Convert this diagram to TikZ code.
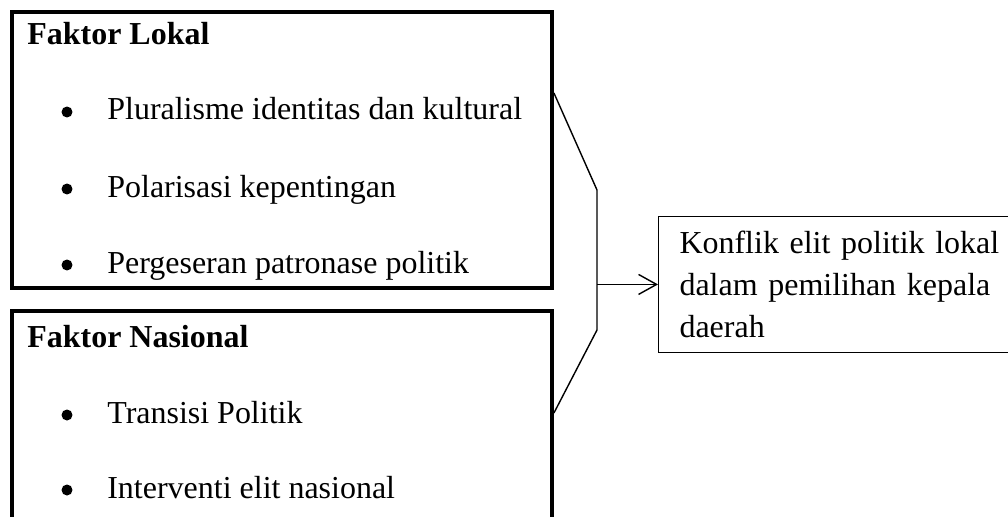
\documentclass[tikz,border=0pt]{standalone}
\usepackage{fontspec}
\setmainfont{Liberation Serif}
\usetikzlibrary{arrows.meta}

\begin{document}
\fontsize{18.2}{23.9}\selectfont
\begin{tikzpicture}[x=0.02cm,y=-0.02cm,
        factor box/.style={draw,line width=2.3pt,anchor=north west,minimum width=10.8cm},
        result box/.style={draw,line width=0.6pt,anchor=north west,align=left},
        heading/.style={anchor=base west,inner sep=0pt,font=\bfseries},
        item/.style={anchor=base west,inner sep=0pt},
        dot/.style={circle,fill,inner sep=0pt,minimum size=0.22cm},
        brace line/.style={line width=0.8pt},
        result arrow/.style={-{Straight Barb[length=0.36cm,width=0.4cm]},line width=0.8pt}]
    \useasboundingbox (0,0) rectangle (1008,517);
    \node[factor box,minimum height=5.52cm] (lokal) at (10,10) {};
    \node[factor box,minimum height=4.8cm] (nasional) at (10,309) {};
    \node[heading] (lokal title) at (27,45) {Faktor Lokal};
    \node[dot] (dot1) at (67,112) {};
    \node[item] (pluralisme) at (107,120) {Pluralisme identitas dan kultural};
    \node[dot] (dot2) at (67,189) {};
    \node[item] (polarisasi) at (107,197) {Polarisasi kepentingan};
    \node[dot] (dot3) at (67,265) {};
    \node[item] (pergeseran) at (107,273) {Pergeseran patronase politik};
    \node[heading] (nasional title) at (27,347) {Faktor Nasional};
    \node[dot] (dot4) at (67,415) {};
    \node[item] (transisi) at (107,423) {Transisi Politik};
    \node[dot] (dot5) at (67,490) {};
    \node[item] (intervensi) at (107,498) {Interventi elit nasional};
    \node[result box,text width=8cm,inner xsep=0.42cm,inner ysep=0.29cm] (hasil) at (658,216)
        {Konflik elit politik lokal\\ dalam pemilihan kepala\\ daerah};
    \coordinate (bend top) at (597,190);
    \coordinate (bend bottom) at (597,330);
    \draw[brace line] ([yshift=-1.66cm]lokal.north east) -- (bend top) -- (bend bottom)
        -- ([yshift=-2.08cm]nasional.north east);
    \draw[result arrow] (bend top |- hasil.west) -- (hasil.west);
\end{tikzpicture}
\end{document}
